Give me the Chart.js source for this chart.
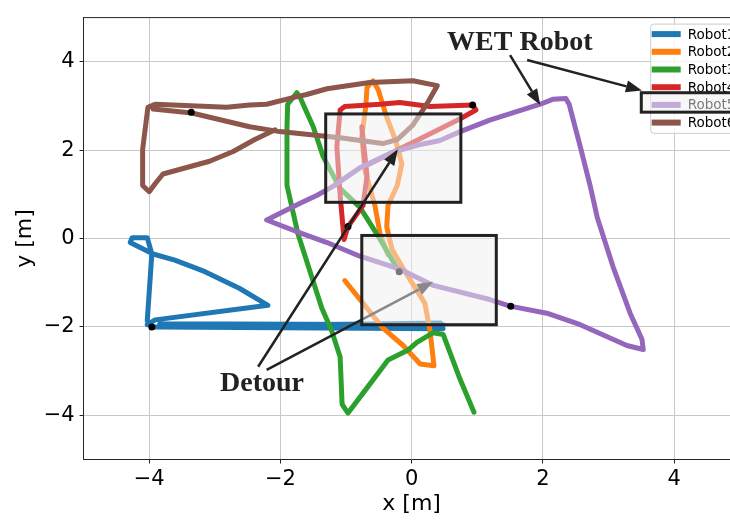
<!DOCTYPE html>
<html lang="en">
<head>
  <meta charset="UTF-8" />
  <title>Robot trajectories</title>
  <script src="https://cdn.jsdelivr.net/npm/chart.js"></script>
  <style>
    html, body {
      margin: 0;
      padding: 0;
      background: #fff;
      overflow: hidden;
    }
    canvas { display: block; }
  </style>
</head>
<body>
  <canvas id="chart" width="780" height="521"></canvas>

  <script>
    // --- data (metres) ---
    const robotNames = ['Robot1', 'Robot2', 'Robot3', 'Robot4', 'Robot5', 'Robot6'];
    const robotColors = ['#1f77b4', '#ff7f0e', '#2ca02c', '#d62728', '#9467bd', '#8c564b'];

    const robot1X = [-4.03, -3.91, -2.19, -2.62, -3.15, -3.61, -3.94, -4.29, -4.26, -4.03, -3.96, -4.03, -3.96, 0.48, -3.84, 0.48, -3.87, 0.44];
    const robot1Y = [-1.95, -1.84, -1.51, -1.13, -0.75, -0.49, -0.35, -0.09, 0.02, 0.02, -0.35, -1.86, -2.0, -1.95, -1.93, -2.04, -2.0, -1.91];

    const robot2X = [-1.02, -0.44, -0.13, 0.13, 0.34, 0.28, 0.2, -0.1, -0.3, -0.38, -0.36, -0.22, -0.15, -0.24, -0.39, -0.51, -0.59, -0.68, -0.7, -0.76, -0.71, -0.56, -0.48, -0.36];
    const robot2Y = [-0.95, -2.02, -2.42, -2.84, -2.88, -2.08, -1.46, -0.75, -0.24, 0.27, 0.75, 1.2, 1.69, 2.2, 2.79, 3.37, 3.57, 3.42, 2.97, 2.31, 1.53, 0.75, 0.09, -0.36];

    const robot3X = [0.95, 0.74, 0.48, 0.33, 0.08, -0.06, -0.36, -0.64, -0.97, -1.06, -1.09, -1.22, -1.37, -1.73, -1.9, -1.9, -1.89, -1.75, -1.7, -1.5, -1.35, -1.09, -0.79, -0.48, -0.19];
    const robot3Y = [-3.93, -3.19, -2.17, -2.13, -2.35, -2.53, -2.75, -3.3, -3.95, -3.75, -2.68, -2.08, -1.57, 0.09, 1.2, 2.53, 3.04, 3.3, 3.19, 2.53, 1.86, 1.13, 0.71, -0.02, -0.75];

    const robot4X = [0.93, 0.28, -0.18, -0.48, -1.02, -1.09, -1.14, -1.09, -1.03, -0.97, -0.74, -0.68, -0.76, -0.71, 0.13, 0.74, 0.98, 0.93];
    const robot4Y = [3.02, 2.99, 3.08, 3.04, 2.99, 2.91, 2.08, 0.98, -0.02, 0.27, 0.75, 1.42, 2.53, 1.64, 2.26, 2.71, 2.91, 3.02];

    const robot5X = [-2.21, -1.7, -1.44, -1.2, -0.79, -0.29, 0.08, 0.43, 0.74, 1.19, 1.96, 2.15, 2.35, 2.4, 2.57, 2.72, 2.83, 3.07, 3.33, 3.51, 3.53, 3.28, 2.57, 2.06, 1.5, 1.19, 0.33, -0.18, -0.79, -1.29, -1.7, -2.21];
    const robot5Y = [0.42, 0.8, 0.98, 1.18, 1.6, 1.95, 2.11, 2.22, 2.42, 2.68, 3.04, 3.15, 3.17, 3.04, 2.08, 1.2, 0.47, -0.64, -1.69, -2.28, -2.51, -2.42, -1.95, -1.69, -1.53, -1.38, -1.06, -0.69, -0.4, -0.09, 0.13, 0.42];

    const robot6X = [-2.08, -2.39, -2.72, -3.08, -3.79, -3.91, -4.0, -4.1, -4.1, -4.02, -3.91, -2.82, -2.47, -2.21, -1.81, -1.6, -1.29, -0.64, 0.02, 0.39, 0.23, 0.02, -0.22, -0.44, -1.09, -2.01, -2.47, -3.35, -3.94];
    const robot6Y = [2.46, 2.24, 1.97, 1.75, 1.46, 1.24, 1.06, 1.2, 2.02, 2.97, 3.04, 2.97, 3.02, 3.04, 3.19, 3.26, 3.39, 3.53, 3.57, 3.46, 3.04, 2.57, 2.24, 2.15, 2.28, 2.42, 2.53, 2.84, 2.93];

    const robotX = [robot1X, robot2X, robot3X, robot4X, robot5X, robot6X];
    const robotY = [robot1Y, robot2Y, robot3Y, robot4Y, robot5Y, robot6Y];

    // black position markers
    const markerX = [-3.36, -3.96, 0.93, -0.97, 1.51, -0.19];
    const markerY = [2.86, -2.0, 3.02, 0.27, -1.53, -0.75];

    const xTicks = [-4, -2, 0, 2, 4];
    const yTicks = [-4, -2, 0, 2, 4];

    // highlight boxes [min, max]
    const box1X = [-1.31, 0.75], box1Y = [0.82, 2.82];
    const box2X = [-0.76, 1.29], box2Y = [-1.95, 0.07];
    const legendBoxX = [3.5, 5.1], legendBoxY = [2.86, 3.3];

    // annotations: text anchor, arrows [x0, y0, x1, y1]
    const wetText = { text: 'WET Robot', x: 0.54, y: 4.26 };
    const detourText = { text: 'Detour', x: -2.92, y: -3.44 };
    const wetArrows = [[1.5, 4.15, 1.96, 3.02], [1.76, 4.04, 3.51, 3.35]];
    const detourArrowUp = [-2.34, -2.9, -0.21, 2.02];
    const detourArrowDown = [-2.21, -2.97, 0.33, -0.98];

    function minusFmt(v) {
      return v < 0 ? '\u2212' + Math.abs(v) : String(v);
    }

    const datasets = robotNames.map((name, i) => ({
      label: name,
      data: robotX[i].map((x, k) => ({ x: x, y: robotY[i][k] })),
      showLine: true,
      borderColor: robotColors[i],
      backgroundColor: robotColors[i],
      borderWidth: 5,
      borderJoinStyle: 'round',
      borderCapStyle: 'round',
      pointRadius: 0,
      order: 5 - i
    }));
    datasets.push({
      label: 'markers',
      data: markerX.map((x, k) => ({ x: x, y: markerY[k] })),
      showLine: false,
      pointRadius: 3.5,
      pointBackgroundColor: '#000',
      pointBorderWidth: 0,
      order: -1
    });

    function drawBox(ctx, sx, sy, bx, by) {
      const l = sx.getPixelForValue(bx[0]), r = sx.getPixelForValue(bx[1]);
      const t = sy.getPixelForValue(by[1]), b = sy.getPixelForValue(by[0]);
      ctx.save();
      ctx.fillStyle = 'rgba(240,240,240,0.5)';
      ctx.fillRect(l, t, r - l, b - t);
      ctx.strokeStyle = '#222';
      ctx.lineWidth = 3;
      ctx.strokeRect(l, t, r - l, b - t);
      ctx.restore();
    }

    function drawArrow(ctx, sx, sy, a) {
      const x0 = sx.getPixelForValue(a[0]), y0 = sy.getPixelForValue(a[1]);
      const x1 = sx.getPixelForValue(a[2]), y1 = sy.getPixelForValue(a[3]);
      const ang = Math.atan2(y1 - y0, x1 - x0);
      const hl = 16, hw = 6;
      const bx = x1 - hl * Math.cos(ang), by = y1 - hl * Math.sin(ang);
      ctx.save();
      ctx.strokeStyle = '#222';
      ctx.fillStyle = '#222';
      ctx.lineWidth = 2.5;
      ctx.beginPath();
      ctx.moveTo(x0, y0);
      ctx.lineTo(bx, by);
      ctx.stroke();
      ctx.beginPath();
      ctx.moveTo(x1, y1);
      ctx.lineTo(bx + hw * Math.sin(ang), by - hw * Math.cos(ang));
      ctx.lineTo(bx - hw * Math.sin(ang), by + hw * Math.cos(ang));
      ctx.closePath();
      ctx.fill();
      ctx.restore();
    }

    function drawLabel(ctx, sx, sy, t) {
      ctx.save();
      ctx.font = 'bold 28px "Liberation Serif", "Times New Roman", serif';
      ctx.fillStyle = '#222';
      ctx.textAlign = 'left';
      ctx.textBaseline = 'alphabetic';
      ctx.fillText(t.text, sx.getPixelForValue(t.x), sy.getPixelForValue(t.y));
      ctx.restore();
    }

    const overlay = {
      id: 'overlay',
      afterDatasetsDraw(chart) {
        const { ctx, scales: { x, y } } = chart;
        drawBox(ctx, x, y, box1X, box1Y);
        drawArrow(ctx, x, y, detourArrowDown);
        drawBox(ctx, x, y, box2X, box2Y);
        drawArrow(ctx, x, y, detourArrowUp);
        wetArrows.forEach(a => drawArrow(ctx, x, y, a));
        drawLabel(ctx, x, y, wetText);
        drawLabel(ctx, x, y, detourText);
      },
      afterDraw(chart) {
        const { ctx, chartArea: ca, scales: { x, y } } = chart;
        // top spine
        ctx.save();
        ctx.strokeStyle = '#262626';
        ctx.lineWidth = 1;
        ctx.beginPath();
        ctx.moveTo(ca.left, ca.top);
        ctx.lineTo(ca.right, ca.top);
        ctx.lineTo(ca.right, ca.bottom);
        ctx.stroke();

        // legend, upper right
        ctx.font = '13.5px "DejaVu Sans"';
        const left = ca.right - 89, top = ca.top + 6.5, rowH = 17.7;
        const textW = Math.max(...robotNames.map(n => ctx.measureText(n).width));
        const w = 37 + textW + 7, h = rowH * robotNames.length + 3;
        ctx.fillStyle = 'rgba(255,255,255,0.8)';
        ctx.strokeStyle = '#cccccc';
        ctx.beginPath();
        ctx.roundRect(left, top, w, h, 3);
        ctx.fill();
        ctx.stroke();
        robotNames.forEach((name, i) => {
          const cy = top + 10 + i * rowH;
          ctx.strokeStyle = robotColors[i];
          ctx.lineWidth = 6;
          ctx.beginPath();
          ctx.moveTo(left + 1, cy);
          ctx.lineTo(left + 30, cy);
          ctx.stroke();
          ctx.fillStyle = '#000';
          ctx.textBaseline = 'middle';
          ctx.fillText(name, left + 37, cy + 1);
        });
        ctx.restore();

        drawBox(ctx, x, y, legendBoxX, legendBoxY);
      }
    };

    const tickFont = { family: '"DejaVu Sans"', size: 21 };
    const titleFont = { family: '"DejaVu Sans"', size: 22 };

    new Chart(document.getElementById('chart'), {
      type: 'scatter',
      data: { datasets: datasets },
      options: {
        responsive: false,
        animation: false,
        layout: { padding: { left: 0, top: 8.5, right: 40.3, bottom: 0 } },
        plugins: {
          legend: { display: false },
          tooltip: { enabled: false }
        },
        scales: {
          x: {
            type: 'linear',
            min: -5,
            max: 5,
            afterBuildTicks: s => { s.ticks = xTicks.map(v => ({ value: v })); },
            afterFit: s => { s.height = 61.5; },
            ticks: { color: '#000', font: tickFont, padding: 3, callback: minusFmt, maxRotation: 0 },
            grid: { color: '#c8c8c8', lineWidth: 1, tickColor: '#222', tickLength: 4 },
            border: { display: true, color: '#262626', width: 1 },
            title: { display: true, text: 'x [m]', color: '#000', font: titleFont, padding: { top: 0, bottom: 4 } }
          },
          y: {
            type: 'linear',
            min: -5,
            max: 5,
            afterBuildTicks: s => { s.ticks = yTicks.map(v => ({ value: v })); },
            afterFit: s => { s.width = 83.6; },
            ticks: { color: '#000', font: tickFont, padding: 5, callback: minusFmt },
            grid: { color: '#c8c8c8', lineWidth: 1, tickColor: '#222', tickLength: 4 },
            border: { display: true, color: '#262626', width: 1 },
            title: { display: true, text: 'y [m]', color: '#000', font: titleFont, padding: { top: 12, bottom: 0 } }
          }
        }
      },
      plugins: [overlay]
    });
  </script>
</body>
</html>
